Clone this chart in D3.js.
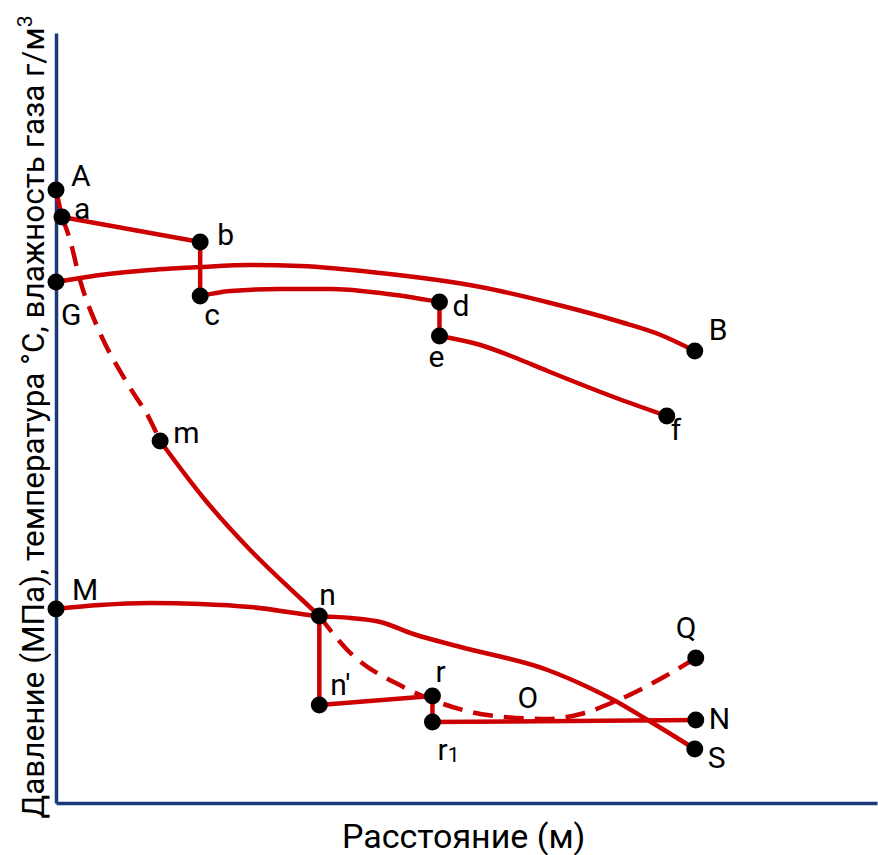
<!DOCTYPE html>
<html>
<head>
<meta charset="utf-8">
<script src="https://cdn.jsdelivr.net/npm/d3@7"></script>
<style>
body { margin: 0; background: #fff; }
text { font-family: Roboto, "Noto Sans", sans-serif; fill: #000; }
.axis path { stroke: #1b3a7a; stroke-width: 3.5px; }
.line { fill: none; stroke: #cc0000; stroke-width: 4.5px; stroke-linejoin: round; }
.dashed { stroke-dasharray: 20, 11; }
.dot { fill: #000; }
.lbl { font-size: 30px; }
.xtitle { font-size: 34px; }
.ytitle { font-size: 31.5px; }
</style>
</head>
<body>
<svg id="chart" width="878" height="855"></svg>
<script>

/// Points of the diagram (distance, value)
var points = [
  {id: "A",  x: 0,   y: 613},
  {id: "a",  x: 6,   y: 586},
  {id: "b",  x: 144, y: 561},
  {id: "G",  x: 0,   y: 521},
  {id: "c",  x: 144, y: 507},
  {id: "d",  x: 383, y: 501},
  {id: "e",  x: 383, y: 467},
  {id: "B",  x: 638, y: 452},
  {id: "f",  x: 610, y: 387},
  {id: "m",  x: 104, y: 362},
  {id: "M",  x: 0,   y: 194},
  {id: "n",  x: 263, y: 187},
  {id: "n′", x: 263, y: 98},
  {id: "r",  x: 376, y: 107},
  {id: "r1", x: 376, y: 81},
  {id: "Q",  x: 639, y: 145},
  {id: "N",  x: 639, y: 83},
  {id: "S",  x: 638, y: 54}
];

/// Curves between points
var curveGB = [[0,521],[44,528],[94,533],[144,536],[194,538],[244,537],[324,530],[424,516],[494,500],[564,481],[604,468],[638,452]];
var curveCD = [[144,507],[174,512],[224,514],[274,514],[324,510],[383,501]];
var curveEF = [[383,467],[424,458],[457,446],[491,432],[557,406],[610,387]];
var curveAM = [[6,586],[14,563],[24,523],[44,470],[71,420],[94,383],[104,362]];
var curveMN = [[104,362],[149,303],[194,253],[246,203],[263,187]];
var curveNQ = [[263,187],[291,153],[347,116],[384,100],[431,88],[491,84],[524,89],[557,101],[607,126],[639,145]];
var curveMS = [[0,194],[44,198],[94,200],[144,199],[194,196],[263,187],[294,185],[324,181],[357,169],[404,156],[491,133],[531,116],[557,103],[591,83],[638,54]];

/// Straight segments (by point id)
var segments = [["A","a"],["a","b"],["b","c"],["d","e"],["n","n′"],["n′","r"],["r","r1"],["r1","N"]];

/// Free label
var annotations = [{text: "O", x: 461, y: 95}];

var xTitle = "Расстояние (м)";
var yTitle = "Давление (МПа), температура °C, влажность газа г/м";

/// label offsets from the dot (px)
var labelOffset = {
  "A": [15,-4], "a": [12,2], "b": [17,3], "G": [5,43], "c": [4,29], "d": [13,14],
  "e": [-11,31], "B": [14,-11], "f": [4,24], "m": [13,2], "M": [16,-9], "n": [0,-11],
  "n′": [11,-10], "r": [3,-14], "r1": [5,38], "Q": [-20,-20], "N": [13,9], "S": [13,19]
};

var svg = d3.select("#chart");

var x = d3.scaleLinear().domain([0, 820]).range([56, 877]);
var y = d3.scaleLinear().domain([0, 770]).range([803, 33]);

/// Axes without ticks
svg.append("g")
    .attr("class", "axis")
    .attr("transform", "translate(0," + y(0) + ")")
    .call(d3.axisBottom(x).tickValues([]).tickSizeOuter(0));

svg.append("g")
    .attr("class", "axis")
    .attr("transform", "translate(" + x(0) + ",0)")
    .call(d3.axisLeft(y).tickValues([]).tickSizeOuter(0));

var byId = {};
points.forEach(function(p){ byId[p.id] = p; });

var line = d3.line()
    .x(function(d){ return x(d[0]); })
    .y(function(d){ return y(d[1]); })
    .curve(d3.curveMonotoneX);

var straight = d3.line()
    .x(function(d){ return x(d.x); })
    .y(function(d){ return y(d.y); });

/// Solid curves
[curveGB, curveCD, curveEF, curveMN, curveMS].forEach(function(c){
  svg.append("path").datum(c).attr("class", "line").attr("d", line);
});

/// Dashed curves
[curveAM, curveNQ].forEach(function(c){
  svg.append("path").datum(c).attr("class", "line dashed").attr("d", line);
});

/// Straight segments
segments.forEach(function(s){
  svg.append("path")
      .datum([byId[s[0]], byId[s[1]]])
      .attr("class", "line")
      .attr("d", straight);
});

/// Dots
svg.selectAll(".dot")
  .data(points)
  .enter().append("circle")
    .attr("class", "dot")
    .attr("r", 8.5)
    .attr("cx", function(d){ return x(d.x); })
    .attr("cy", function(d){ return y(d.y); });

/// Point labels
var lbl = svg.selectAll(".lbl")
  .data(points)
  .enter().append("text")
    .attr("class", "lbl")
    .attr("x", function(d){ return x(d.x) + labelOffset[d.id][0]; })
    .attr("y", function(d){ return y(d.y) + labelOffset[d.id][1]; });

lbl.each(function(d){
  var t = d3.select(this);
  if (d.id === "r1") {
    t.append("tspan").text("r");
    t.append("tspan").attr("font-size", "21px").attr("dy", 2).text("1");
  } else {
    t.text(d.id);
  }
});

annotations.forEach(function(a){
  svg.append("text").attr("class", "lbl")
      .attr("x", x(a.x)).attr("y", y(a.y)).text(a.text);
});

/// Axis titles
svg.append("text")
    .attr("class", "xtitle")
    .attr("x", 342)
    .attr("y", 848)
    .text(xTitle);

var yt = svg.append("text")
    .attr("class", "ytitle")
    .attr("text-anchor", "middle")
    .attr("transform", "translate(44,417) rotate(-90)");
yt.append("tspan").text(yTitle);
yt.append("tspan").attr("font-size", "21px").attr("dy", -12).text("3");

</script>
</body>
</html>
